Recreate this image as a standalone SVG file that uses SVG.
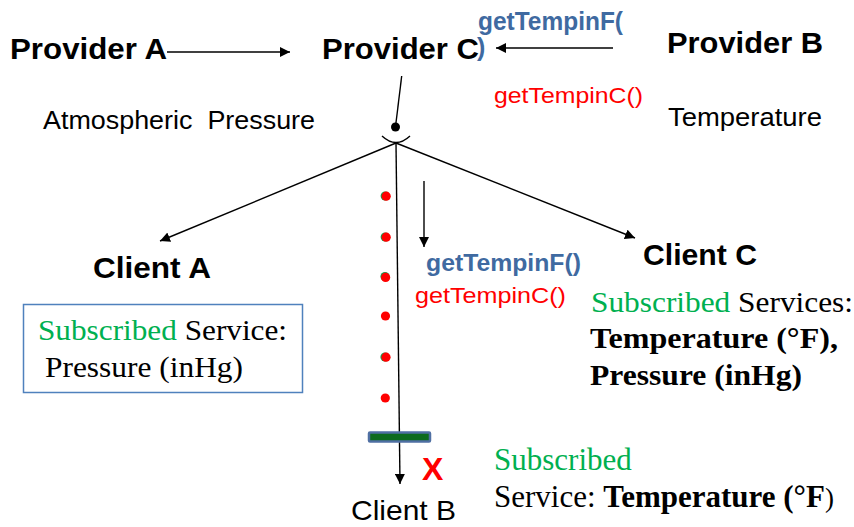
<svg xmlns="http://www.w3.org/2000/svg" width="854" height="527" viewBox="0 0 854 527">
  <defs>
    <marker id="arrow" viewBox="0 0 10 10" refX="10" refY="5" markerWidth="10" markerHeight="10" markerUnits="userSpaceOnUse" orient="auto">
      <path d="M0,0 L10,5 L0,10 Z" fill="#000"/>
    </marker>
    <style>
      .head { font-family: "Liberation Sans", Arial, sans-serif; font-weight: bold; fill: #000; }
      .plain { font-family: "Liberation Sans", Arial, sans-serif; fill: #000; }
      .serif { font-family: "Liberation Serif", "Times New Roman", serif; fill: #000; }
      .method-f { font-family: "Liberation Sans", Arial, sans-serif; font-weight: bold; fill: #3f6aa1; }
      .method-c { font-family: "Liberation Sans", Arial, sans-serif; fill: #ff0000; }
      .green { fill: #00b050; }
      .b { font-weight: bold; }
      .wire { stroke: #000; stroke-width: 1.4; fill: none; }
      .dot { fill: #ff0000; }
      .dot-edge { fill: #1a9a4a; }
    </style>
  </defs>

  <!-- providers -->
  <g id="provider-a">
    <text class="head" x="10" y="59" font-size="29" textLength="157" lengthAdjust="spacingAndGlyphs">Provider A</text>
    <text class="plain" x="43" y="129" font-size="26" textLength="272" lengthAdjust="spacingAndGlyphs">Atmospheric&#160; Pressure</text>
  </g>
  <g id="provider-c">
    <text class="head" x="322" y="59" font-size="29" textLength="157" lengthAdjust="spacingAndGlyphs">Provider C</text>
  </g>
  <g id="provider-b">
    <text class="head" x="667" y="53" font-size="29" textLength="156" lengthAdjust="spacingAndGlyphs">Provider B</text>
    <text class="plain" x="668" y="126" font-size="26" textLength="154" lengthAdjust="spacingAndGlyphs">Temperature</text>
  </g>

  <!-- method labels on the provider link -->
  <g id="provider-methods">
    <text class="method-f" x="478" y="30" font-size="25" textLength="145" lengthAdjust="spacingAndGlyphs">getTempinF(</text>
    <text class="method-f" x="477" y="56" font-size="25">)</text>
    <text class="method-c" x="494" y="103" font-size="22" textLength="149" lengthAdjust="spacingAndGlyphs">getTempinC()</text>
  </g>

  <!-- connectors -->
  <g id="connectors">
    <line class="wire" x1="167" y1="52" x2="290" y2="52" marker-end="url(#arrow)"/>
    <line class="wire" x1="613" y1="48" x2="496" y2="48" marker-end="url(#arrow)"/>
    <line class="wire" x1="401.7" y1="76" x2="395.6" y2="126"/>
    <circle cx="395.5" cy="127" r="4.5" fill="#000"/>
    <path class="wire" d="M382,136 Q396,149 410,136"/>
    <line class="wire" x1="396" y1="143" x2="160" y2="241" marker-end="url(#arrow)"/>
    <line class="wire" x1="396" y1="143" x2="635" y2="238" marker-end="url(#arrow)"/>
    <line class="wire" x1="396" y1="143" x2="400" y2="484" marker-end="url(#arrow)"/>
    <line class="wire" x1="424" y1="181" x2="424" y2="247" marker-end="url(#arrow)"/>
  </g>

  <!-- message dots travelling to Client B -->
  <g id="message-dots">
    <circle class="dot-edge" cx="385.2" cy="196" r="4.6"/>
    <circle class="dot" cx="386.2" cy="196.2" r="4.6"/>
    <circle class="dot-edge" cx="385.2" cy="237" r="4.6"/>
    <circle class="dot" cx="386.2" cy="237.2" r="4.6"/>
    <circle class="dot-edge" cx="385" cy="276.6" r="4.6"/>
    <circle class="dot" cx="385.6" cy="277.4" r="4.6"/>
    <circle class="dot" cx="385.5" cy="316" r="4.6"/>
    <circle class="dot-edge" cx="385" cy="357" r="4.6"/>
    <circle class="dot" cx="386" cy="357.2" r="4.6"/>
    <circle class="dot" cx="385.3" cy="398" r="4.6"/>
  </g>

  <!-- filter bar blocking Client B -->
  <g id="filter">
    <rect x="369" y="432.5" width="61" height="9" rx="1" fill="#0d6b1e" stroke="#4f6fa3" stroke-width="2.5"/>
  </g>

  <g id="mid-methods">
    <text class="method-f" x="426" y="271" font-size="24" textLength="155" lengthAdjust="spacingAndGlyphs">getTempinF()</text>
    <text class="method-c" x="415" y="303" font-size="22" textLength="151" lengthAdjust="spacingAndGlyphs">getTempinC()</text>
  </g>

  <!-- clients -->
  <g id="client-a">
    <text class="head" x="93" y="278" font-size="30" textLength="118" lengthAdjust="spacingAndGlyphs">Client A</text>
    <rect x="23.5" y="304.5" width="279" height="88" fill="#fff" stroke="#4f81bd" stroke-width="1.5"/>
    <text class="serif" x="38" y="340" font-size="30" textLength="249" lengthAdjust="spacingAndGlyphs"><tspan class="green">Subscribed</tspan> Service:</text>
    <text class="serif" x="45" y="377" font-size="30" textLength="198" lengthAdjust="spacingAndGlyphs">Pressure (inHg)</text>
  </g>

  <g id="client-c">
    <text class="head" x="643" y="265" font-size="30" textLength="114" lengthAdjust="spacingAndGlyphs">Client C</text>
    <text class="serif" x="591" y="312" font-size="30" textLength="262" lengthAdjust="spacingAndGlyphs"><tspan class="green">Subscribed</tspan> Services:</text>
    <text class="serif b" x="590" y="348" font-size="30" textLength="248" lengthAdjust="spacingAndGlyphs">Temperature (°F),</text>
    <text class="serif b" x="590" y="385" font-size="30" textLength="212" lengthAdjust="spacingAndGlyphs">Pressure (inHg)</text>
  </g>

  <g id="client-b">
    <text x="422" y="480" font-family="Liberation Sans, Arial, sans-serif" font-weight="bold" font-size="32" fill="#ff0000">X</text>
    <text class="plain" x="351" y="520" font-size="28" textLength="105" lengthAdjust="spacingAndGlyphs">Client B</text>
    <text class="serif green" x="494" y="470" font-size="31">Subscribed</text>
    <text class="serif" x="494" y="507" font-size="31">Service: <tspan class="b">Temperature (°F</tspan><tspan font-size="27">)</tspan></text>
  </g>
</svg>
